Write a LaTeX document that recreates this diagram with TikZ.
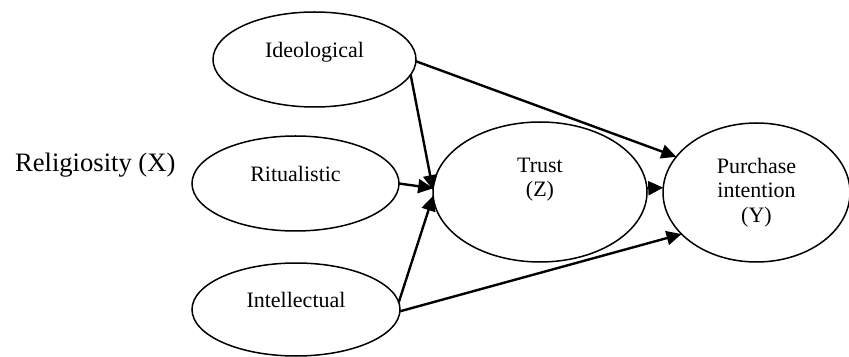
\documentclass[tikz,border=0pt]{standalone}
\usepackage{fontspec}
\setmainfont{Liberation Serif}
\usetikzlibrary{shapes.geometric, arrows.meta}

\begin{document}
\begin{tikzpicture}
	[x=0.5pt, y=-0.5pt,			%1 unit = 1 pixel of the figure, y pointing down
	 Oval/.style={ellipse, draw, line width=0.75pt, inner sep=0pt, outer sep=0pt, font=\fontsize{11}{12.25}\selectfont},	%Options for the ellipses
	 OneLine/.style={text height=7.5pt, text depth=9.7pt},		%Single line sits a bit above the middle
	 MultiLine/.style={align=center},
	 PathArrow/.style={-{Triangle[length=7.5pt, width=7pt]}, line width=1.2pt}	%Options for the arrows
	]
	
	\useasboundingbox (0,0) rectangle (849,357);		%Frame of the figure
	
	\node[anchor=base west, font=\fontsize{13.3}{16}\selectfont] (Relig) at (8,171.7) {Religiosity (X)};	%Name of the construct X
	
	\node[Oval, OneLine, minimum width=101.5pt, minimum height=47.5pt] (Ideo) at (314.5,59.5) {Ideological};
	\node[Oval, OneLine, minimum width=103.5pt, minimum height=47.5pt] (Ritual) at (295.5,183.5) {Ritualistic};
	\node[Oval, OneLine, minimum width=104pt, minimum height=46.5pt] (Intel) at (296,309.5) {Intellectual};
	\node[Oval, MultiLine, minimum width=107pt, minimum height=70pt] (Trust) at (540,192) {Trust\\(Z)\\\vphantom{(Y)}};	%empty third line keeps the text on top
	\node[Oval, MultiLine, minimum width=93.5pt, minimum height=69.5pt] (Purch) at (756.5,192.5) {Purchase\\intention\\(Y)};
	
	\draw[PathArrow] (Ideo.-9) -- (Trust.179);		%X -> Z
	\draw[PathArrow] (Ritual.east) -- (Trust.178);
	\draw[PathArrow] (Intel.4) -- (Trust.182);
	\draw[PathArrow] (Ideo.-1) -- (Purch.156);		%X -> Y
	\draw[PathArrow] (Intel.-1) -- (Purch.209);
	\draw[PathArrow] (Trust.2) -- (Purch.177);		%Z -> Y
	
\end{tikzpicture}
\end{document}
